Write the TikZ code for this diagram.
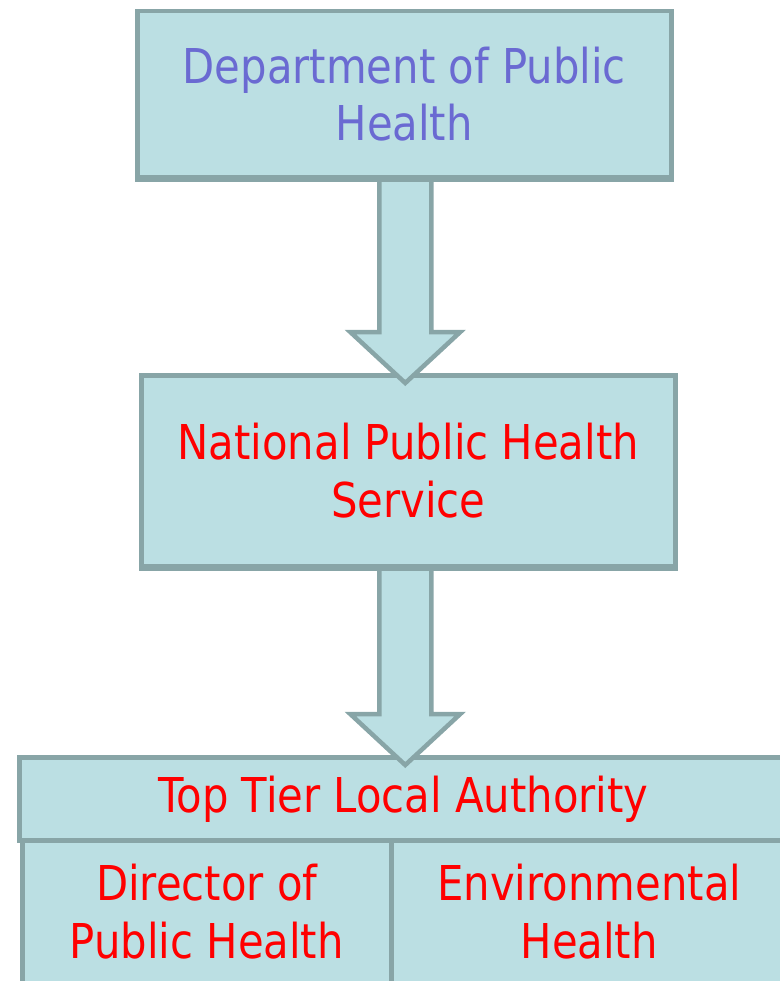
\documentclass[tikz,border=0pt]{standalone}
\usepackage{fontspec}
\setmainfont{DejaVu Sans}[FakeStretch=0.87]
\usetikzlibrary{calc}
\definecolor{boxfill}{HTML}{BBDFE3}
\definecolor{boxline}{HTML}{88A5A7}
\definecolor{bluetxt}{HTML}{6A6AD2}
\definecolor{redtxt}{HTML}{FF0000}
\begin{document}
\begin{tikzpicture}[x=1pt,y=-1pt,
  box/.style={draw=boxline, fill=boxfill, line width=4.5pt, align=center, inner sep=0pt,
    anchor=north west, font=\fontsize{48}{57.6}\selectfont},
  blockarrow/.style={draw=boxline, fill=boxfill, line width=4.5pt, line join=miter},
  edgeline/.style={draw=boxline, line width=4.5pt}]
\useasboundingbox (0,0) rectangle (779,981);
\node[box, minimum width=534pt, minimum height=166pt, text=bluetxt] (dph) at (135,9) {Department of Public\\Health};
\node[box, minimum width=534pt, minimum height=191pt, text=redtxt] (nphs) at (139,373) {National Public Health\\Service};
\node[box, minimum width=768pt, minimum height=83pt, text=redtxt] (tla) at (17,755) {Top Tier Local Authority};
\node[box, minimum width=369pt, minimum height=143pt, text=redtxt] (dir) at (20,838) {Director of\\Public Health};
\node[box, minimum width=396pt, minimum height=143pt, text=redtxt] (env) at (389,838) {Environmental\\Health};
% block arrows
\coordinate (a1top) at ($(dph.south)+(1,0)$);
\coordinate (a1tip) at (a1top |- nphs.north);
\filldraw[blockarrow] ($(a1top)+(-26,-1)$) -- ($(a1tip)+(-26,-41)$) -- ($(a1tip)+(-55,-41)$)
  -- ($(a1tip)+(0,10)$) -- ($(a1tip)+(55,-41)$) -- ($(a1tip)+(26,-41)$) -- ($(a1top)+(26,-1)$);
\draw[edgeline] (dph.south west) -- (dph.south east);
\coordinate (a2top) at ($(nphs.south)+(-3,0)$);
\coordinate (a2tip) at (a2top |- tla.north);
\filldraw[blockarrow] ($(a2top)+(-26,-1)$) -- ($(a2tip)+(-26,-41)$) -- ($(a2tip)+(-55,-41)$)
  -- ($(a2tip)+(0,10)$) -- ($(a2tip)+(55,-41)$) -- ($(a2tip)+(26,-41)$) -- ($(a2top)+(26,-1)$);
\draw[edgeline] (nphs.south west) -- (nphs.south east);
\end{tikzpicture}
\end{document}
